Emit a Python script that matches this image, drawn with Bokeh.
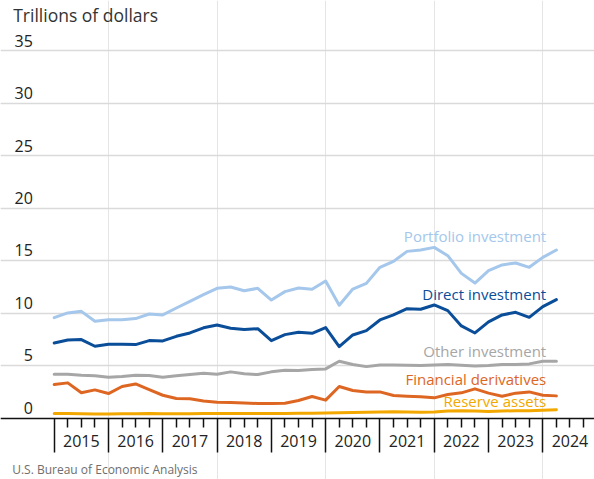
from bokeh.plotting import figure
from bokeh.models import Range1d, LinearAxis, FixedTicker, Grid, ColumnDataSource
from bokeh.core.properties import value
from bokeh.embed import file_html
from bokeh.resources import INLINE

# ---------------- data (trillions of dollars, end of quarter) ----------------
quarters = ["2014Q4",
            "2015Q1", "2015Q2", "2015Q3", "2015Q4",
            "2016Q1", "2016Q2", "2016Q3", "2016Q4",
            "2017Q1", "2017Q2", "2017Q3", "2017Q4",
            "2018Q1", "2018Q2", "2018Q3", "2018Q4",
            "2019Q1", "2019Q2", "2019Q3", "2019Q4",
            "2020Q1", "2020Q2", "2020Q3", "2020Q4",
            "2021Q1", "2021Q2", "2021Q3", "2021Q4",
            "2022Q1", "2022Q2", "2022Q3", "2022Q4",
            "2023Q1", "2023Q2", "2023Q3", "2023Q4",
            "2024Q1"]

portfolio = [9.57, 10.02, 10.17, 9.22, 9.38, 9.38, 9.48, 9.92, 9.83, 10.49,
             11.13, 11.76, 12.37, 12.49, 12.14, 12.37, 11.25, 12.05, 12.40, 12.27,
             13.06, 10.75, 12.30, 12.84, 14.37, 14.94, 15.89, 16.02, 16.27, 15.48,
             13.79, 12.87, 14.05, 14.60, 14.78, 14.37, 15.32, 16.02]
direct = [7.16, 7.44, 7.48, 6.84, 7.03, 7.03, 7.00, 7.38, 7.35, 7.79,
          8.11, 8.60, 8.87, 8.56, 8.43, 8.52, 7.38, 7.95, 8.17, 8.08,
          8.62, 6.81, 7.92, 8.33, 9.35, 9.83, 10.43, 10.37, 10.78, 10.24,
          8.78, 8.11, 9.16, 9.83, 10.08, 9.60, 10.62, 11.29]
other = [4.17, 4.17, 4.08, 4.02, 3.89, 3.95, 4.08, 4.05, 3.89, 4.02,
         4.14, 4.27, 4.17, 4.40, 4.21, 4.14, 4.40, 4.56, 4.52, 4.62,
         4.68, 5.41, 5.10, 4.90, 5.06, 5.06, 5.03, 5.00, 5.06, 5.10,
         5.03, 4.97, 5.00, 5.10, 5.10, 5.16, 5.41, 5.41]
derivatives = [3.19, 3.35, 2.40, 2.68, 2.33, 3.00, 3.25, 2.71, 2.17, 1.86,
               1.83, 1.62, 1.51, 1.48, 1.44, 1.38, 1.38, 1.41, 1.67, 2.05,
               1.70, 3.00, 2.62, 2.49, 2.49, 2.14, 2.08, 2.02, 1.92, 2.24,
               2.40, 2.78, 2.37, 2.08, 2.37, 2.49, 2.17, 2.11]
reserve = [0.42, 0.42, 0.40, 0.39, 0.38, 0.40, 0.41, 0.42, 0.40, 0.41,
           0.41, 0.42, 0.42, 0.43, 0.42, 0.42, 0.42, 0.44, 0.45, 0.46,
           0.47, 0.50, 0.53, 0.56, 0.58, 0.59, 0.57, 0.56, 0.57, 0.66,
           0.68, 0.67, 0.63, 0.66, 0.70, 0.70, 0.73, 0.78]

series_names = ["Portfolio investment", "Direct investment", "Other investment",
                "Financial derivatives", "Reserve assets"]
series_values = [portfolio, direct, other, derivatives, reserve]

y_ticks = [0, 5, 10, 15, 20, 25, 30, 35]
year_labels = ["2015", "2016", "2017", "2018", "2019", "2020", "2021", "2022", "2023", "2024"]

title_text = "Trillions of dollars"
source_text = "U.S. Bureau of Economic Analysis"

# ---------------- styles / layout ----------------
colors = ["#a4c7eb", "#0a4d99", "#a6a6a6", "#de6623", "#f3a800"]
FONT = "Open Sans"
W, H = 594, 479
PX_YEAR = 54.29          # pixels per year
PX_UNIT = 10.486         # pixels per trillion
X0 = 2015 - 53.7 / PX_YEAR
X1 = X0 + W / PX_YEAR
Y1 = 417.5 / PX_UNIT
Y0 = -(H - 417.5) / PX_UNIT
TXT_SHIFT = 6.5          # compensation for text baseline rendering


def cx(px):
    return X0 + px / PX_YEAR


def cy(px):
    return Y1 - (px - TXT_SHIFT) / PX_UNIT


xs = [int(q[:4]) + int(q[5]) / 4 for q in quarters]
years = [int(y) for y in year_labels]

p = figure(width=W, height=H, x_range=Range1d(X0, X1), y_range=Range1d(Y0, Y1),
           x_axis_location=None, y_axis_location=None, min_border=0,
           toolbar_location=None, output_backend="svg", outline_line_color=None,
           background_fill_color="white", border_fill_color="white")

grid = Grid(dimension=1, ticker=FixedTicker(ticks=[t for t in y_ticks if t > 0]),
            grid_line_color="#dadada", grid_line_width=1.6)
p.add_layout(grid)

for vals, col in zip(series_values, colors):
    p.line(xs, vals, line_width=3, line_color=col, line_join="round", line_cap="round")

# x axis: quarter ticks (short)
quarter_ticks = [y + k / 4 for y in years for k in (1, 2, 3)]
ax_quarters = LinearAxis(fixed_location=0,
                         ticker=FixedTicker(ticks=quarter_ticks, minor_ticks=[]),
                         major_label_overrides={q: "" for q in quarter_ticks},
                         axis_line_color=None,
                         major_tick_line_color="#111111", major_tick_line_width=1.5,
                         minor_tick_line_color=None,
                         major_tick_in=0, major_tick_out=9)
p.add_layout(ax_quarters, "below")

# x axis: line + year ticks (long)
ax_years = LinearAxis(fixed_location=0,
                      ticker=FixedTicker(ticks=years, minor_ticks=[]),
                      major_label_overrides={y: "" for y in years},
                      axis_line_color="#111111", axis_line_width=1.6,
                      major_tick_line_color="#111111", major_tick_line_width=1.5,
                      minor_tick_line_color=None,
                      major_tick_in=0, major_tick_out=34)
p.add_layout(ax_years, "below")

# x axis: year labels centred in each year
mids = [y + 0.5 for y in years]
ax_labels = LinearAxis(fixed_location=0,
                       ticker=FixedTicker(ticks=mids, minor_ticks=[]),
                       major_label_overrides={m: lab for m, lab in zip(mids, year_labels)},
                       axis_line_color=None, major_tick_line_color=None,
                       minor_tick_line_color=None, major_tick_in=0, major_tick_out=0,
                       major_label_standoff=17,
                       major_label_text_font=FONT, major_label_text_font_size="16px",
                       major_label_text_color="#222222")
p.add_layout(ax_labels, "below")

# y tick labels, above their grid lines
p.text(x=[cx(32.3)] * len(y_ticks), y=[t + (3.8 + TXT_SHIFT) / PX_UNIT for t in y_ticks],
       text=[str(t) for t in y_ticks], text_align="right", text_baseline="alphabetic",
       text_font=value(FONT), text_font_size="16px", text_color="#222222")

# series labels
label_y_px = [242, 300, 357, 385, 406.5]
lab_src = ColumnDataSource(dict(x=[cx(545.7)] * 5, y=[cy(v) for v in label_y_px],
                                text=series_names, color=colors))
p.text(x="x", y="y", text="text", text_color="color", source=lab_src,
       text_align="right", text_baseline="alphabetic",
       text_font=value(FONT), text_font_size="15px")

# title and source
p.text(x=[cx(12.7)], y=[cy(20.7)], text=[title_text], text_align="left",
       text_baseline="alphabetic", text_font=value(FONT), text_font_size="17.5px",
       text_color="#333333")
p.text(x=[cx(11.7)], y=[cy(475.5)], text=[source_text], text_align="left",
       text_baseline="alphabetic", text_font=value(FONT), text_font_size="12px",
       text_color="#6e6e6e")

open("out.html", "w").write(file_html(p, INLINE))
